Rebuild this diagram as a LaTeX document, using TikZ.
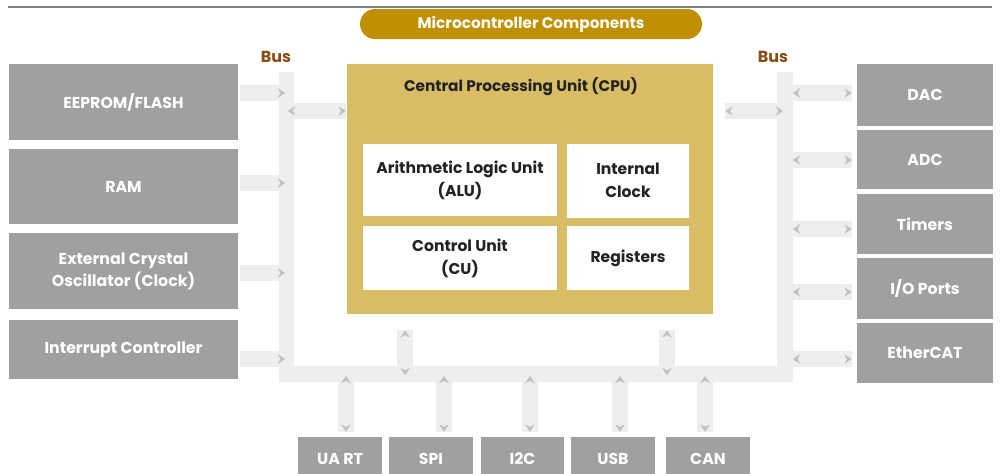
\documentclass[tikz,border=0pt]{standalone}
\usepackage{fontspec}
\setmainfont{Poppins}
\usetikzlibrary{arrows.meta}
\definecolor{boxgray}{HTML}{9FA09F}
\definecolor{cpufill}{HTML}{D9BC66}
\definecolor{pill}{HTML}{C19000}
\definecolor{busbrown}{HTML}{8A4B12}
\definecolor{barcol}{HTML}{EEEEEE}
\definecolor{tipgray}{HTML}{C0C0C0}
\definecolor{topline}{HTML}{7F7F7F}
\definecolor{darktext}{HTML}{222222}
\tikzset{
  tipg/.tip={Stealth[length=3.5pt,width=4.6pt,inset=1.2pt,color=tipgray]},
  gbox/.style={fill=boxgray, draw=none, inner sep=0pt, text=white, align=center, font=\bfseries\fontsize{7.9}{11}\selectfont},
  wbox/.style={fill=white, draw=none, inner sep=0pt, text=darktext, align=center, font=\bfseries\fontsize{7.8}{11.5}\selectfont},
  linkone/.style={draw=barcol, line width=8pt, postaction={draw=barcol, line width=0.1pt, -tipg}},
  linktwo/.style={draw=barcol, line width=8pt, postaction={draw=barcol, line width=0.1pt, tipg-tipg}},
  buslabel/.style={text=busbrown, font=\bfseries\fontsize{8}{9}\selectfont},
}
\begin{document}
\begin{tikzpicture}[x=0.5pt,y=-0.5pt]
\useasboundingbox (0,0) rectangle (1000,473);
\clip (0,0) rectangle (1000,473);
% top rule
\draw[topline, line width=1pt] (8,7) -- (992,7);
% title
\node[fill=pill, rounded corners=7.5pt, minimum width=171pt, minimum height=15pt, inner sep=0pt, text=white, font=\bfseries\fontsize{7.65}{9}\selectfont] (title) at (531,24) {Microcontroller Components};
% bus labels
\node[buslabel] (busLlab) at (276,57) {Bus};
\node[buslabel] (busRlab) at (773,57) {Bus};
% bus shape
\fill[barcol] (279,72) -- (279,382) -- (793,382) -- (793,72) -- (777,72) -- (777,366) -- (294,366) -- (294,72) -- cycle;
% CPU
\node[fill=cpufill, minimum width=183pt, minimum height=125pt, inner sep=0pt] (cpu) at (530,189) {};
\node[text=darktext, font=\bfseries\fontsize{7.65}{10}\selectfont] (cputitle) at (521,87) {Central Processing Unit (CPU)};
\node[wbox, minimum width=97pt, minimum height=36pt] (alu) at (460,180) {Arithmetic Logic Unit\\(ALU)};
\node[wbox, minimum width=61pt, minimum height=37pt] (clk) at (628,180.5) {Internal\\Clock};
\node[wbox, minimum width=97pt, minimum height=32pt] (cu) at (460,258) {Control Unit\\(CU)};
\node[wbox, minimum width=61pt, minimum height=32pt] (reg) at (628,258) {Registers};
% left boxes
\node[gbox, minimum width=114.5pt, minimum height=38pt] (eeprom) at (123.5,102) {EEPROM/FLASH};
\node[gbox, minimum width=114.5pt, minimum height=37.5pt] (ram) at (123.5,186.5) {RAM};
\node[gbox, minimum width=114.5pt, minimum height=38pt] (xtal) at (123.5,271) {External Crystal\\Oscillator (Clock)};
\node[gbox, minimum width=114.5pt, minimum height=29.5pt] (irq) at (123.5,349.5) {Interrupt Controller};
% right boxes
\node[gbox, minimum width=68pt, minimum height=31pt] (dac) at (925,95) {DAC};
\node[gbox, minimum width=68pt, minimum height=29.5pt] (adc) at (925,159.5) {ADC};
\node[gbox, minimum width=68pt, minimum height=30pt] (tmr) at (925,224) {Timers};
\node[gbox, minimum width=68pt, minimum height=30.5pt] (io) at (925,288.5) {I/O Ports};
\node[gbox, minimum width=68pt, minimum height=30pt] (eth) at (925,353) {EtherCAT};
% bottom boxes
\node[gbox, minimum width=42pt, minimum height=21.5pt] (uart) at (340,458.5) {UA RT};
\node[gbox, minimum width=42pt, minimum height=21.5pt] (spi) at (431,458.5) {SPI};
\node[gbox, minimum width=41.5pt, minimum height=21.5pt] (iic) at (522.5,458.5) {I2C};
\node[gbox, minimum width=42pt, minimum height=21.5pt] (usb) at (613,458.5) {USB};
\node[gbox, minimum width=42pt, minimum height=21.5pt] (can) at (708,458.5) {CAN};
% bus coordinates
\coordinate (l1) at (285,93);
\coordinate (l2) at (285,183);
\coordinate (l3) at (285,273);
\coordinate (l4) at (285,359);
\coordinate (lc) at (288,111);
\coordinate (rc) at (783,111);
\coordinate (r1) at (793,93);
\coordinate (r2) at (793,160);
\coordinate (r3) at (793,229);
\coordinate (r4) at (793,292);
\coordinate (r5) at (793,359);
\coordinate (bc1) at (405,375);
\coordinate (bc2) at (667,375);
\coordinate (b1) at (346,376);
\coordinate (b2) at (444,376);
\coordinate (b3) at (530,376);
\coordinate (b4) at (620,376);
\coordinate (b5) at (705,376);
% left links
\draw[linkone, shorten <=1pt] (eeprom.east |- l1) -- (l1);
\draw[linkone, shorten <=1pt] (ram.east |- l2) -- (l2);
\draw[linkone, shorten <=1pt] (xtal.east |- l3) -- (l3);
\draw[linkone, shorten <=1pt] (irq.east |- l4) -- (l4);
% cpu links
\draw[linktwo, shorten >=0.5pt] (lc) -- (cpu.west |- lc);
\draw[linktwo, shorten <=6pt] (cpu.east |- rc) -- (rc);
\draw[linktwo, shorten <=8pt] (cpu.south -| bc1) -- (bc1);
\draw[linktwo, shorten <=8pt] (cpu.south -| bc2) -- (bc2);
% right links
\draw[linktwo, shorten >=2.5pt] (r1) -- (dac.west |- r1);
\draw[linktwo, shorten >=2.5pt] (r2) -- (adc.west |- r2);
\draw[linktwo, shorten >=2.5pt] (r3) -- (tmr.west |- r3);
\draw[linktwo, shorten >=2.5pt] (r4) -- (io.west |- r4);
\draw[linktwo, shorten >=2.5pt] (r5) -- (eth.west |- r5);
% bottom links
\draw[linktwo, shorten >=2.5pt] (b1) -- (uart.north -| b1);
\draw[linktwo, shorten >=2.5pt] (b2) -- (spi.north -| b2);
\draw[linktwo, shorten >=2.5pt] (b3) -- (iic.north -| b3);
\draw[linktwo, shorten >=2.5pt] (b4) -- (usb.north -| b4);
\draw[linktwo, shorten >=2.5pt] (b5) -- (can.north -| b5);
\end{tikzpicture}
\end{document}
